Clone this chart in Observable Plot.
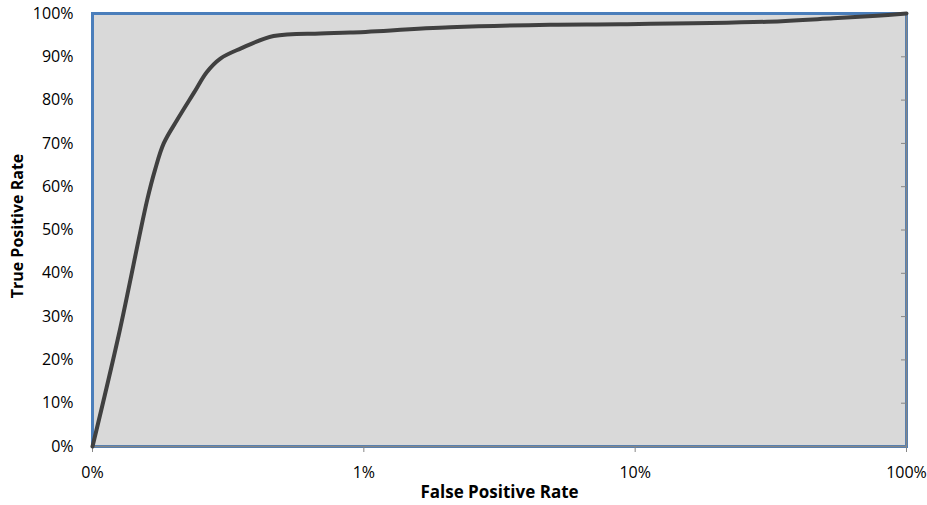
<!DOCTYPE html>
<html>
<head>
<meta charset="utf-8">
<script src="https://cdn.jsdelivr.net/npm/d3@7"></script>
<script src="https://cdn.jsdelivr.net/npm/@observablehq/plot@0.6"></script>
<style>
  html, body { margin: 0; padding: 0; background: #fff; }
  #chart svg { display: block; }
</style>
</head>
<body>
<div id="chart"></div>
<script>
// False positive rate (log scale) and true positive rate
const fpr = [0.001, 0.00125, 0.00159, 0.0017, 0.00183, 0.00205, 0.00236, 0.00264, 0.00296, 0.00351, 0.00465, 0.0069, 0.0089, 0.0208, 0.0486, 0.088, 0.306, 0.537, 0.778, 1];
const tpr = [0, 0.258, 0.569, 0.639, 0.700, 0.754, 0.816, 0.865, 0.896, 0.919, 0.948, 0.954, 0.956, 0.968, 0.974, 0.975, 0.981, 0.989, 0.995, 1];

const xTicks = [0.001, 0.01, 0.1, 1];
const xTickLabels = ["0%", "1%", "10%", "100%"];
const yTicks = [0, 0.1, 0.2, 0.3, 0.4, 0.5, 0.6, 0.7, 0.8, 0.9, 1];
const yTickLabels = ["0%", "10%", "20%", "30%", "40%", "50%", "60%", "70%", "80%", "90%", "100%"];
const xTitle = "False Positive Rate";
const yTitle = "True Positive Rate";

const data = fpr.map((f, i) => ({fpr: f, tpr: tpr[i]}));

const font = "'Open Sans', 'Noto Sans', sans-serif";

const chart = Plot.plot({
  width: 927,
  height: 505,
  marginLeft: 92,
  marginRight: 21,
  marginTop: 13,
  marginBottom: 59,
  style: {fontFamily: font, fontSize: "16px", color: "#000", background: "#fff"},
  x: {type: "log", domain: [0.001, 1]},
  y: {domain: [0, 1]},
  marks: [
    Plot.frame({fill: "#d9d9d9", stroke: "#4a7ebb", strokeWidth: 3}),
    Plot.ruleY([0], {stroke: "#868686", strokeWidth: 1.5}),
    Plot.ruleX([1], {stroke: "#868686", strokeWidth: 1.5}),
    Plot.axisX({
      anchor: "bottom", ticks: xTicks, tickSize: 6, tickPadding: 14,
      tickFormat: (d) => xTickLabels[xTicks.indexOf(d)],
      stroke: "#868686", fill: "#000", label: null, fontSize: 16
    }),
    Plot.axisY({
      anchor: "left", ticks: yTicks, tickSize: 0, tickPadding: 19,
      tickFormat: (d) => yTickLabels[yTicks.indexOf(d)],
      fill: "#000", label: null, fontSize: 16
    }),
    Plot.axisY({
      anchor: "right", ticks: yTicks, tickSize: 6, dx: -6,
      tickFormat: () => "", stroke: "#868686", label: null
    }),
    Plot.line(data, {
      x: "fpr", y: "tpr", stroke: "#404040", strokeWidth: 4,
      curve: "catmull-rom", strokeLinejoin: "round", strokeLinecap: "round"
    }),
    Plot.text([xTitle], {
      frameAnchor: "bottom", dy: 46, lineAnchor: "middle", textAnchor: "middle",
      fontWeight: "bold", fontSize: 17, fill: "#000"
    }),
    Plot.text([yTitle], {
      frameAnchor: "left", dx: -75, dy: -4, rotate: -90, lineAnchor: "middle", textAnchor: "middle",
      fontWeight: "bold", fontSize: 16, fill: "#000"
    })
  ]
});
document.getElementById("chart").appendChild(chart);
</script>
</body>
</html>
